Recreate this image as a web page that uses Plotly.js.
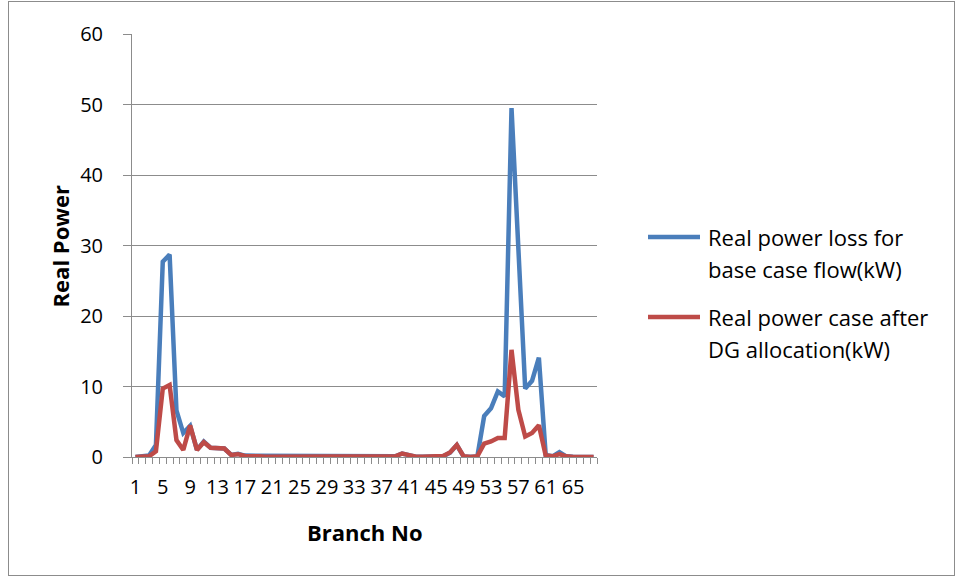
<!DOCTYPE html>
<html>
<head>
<meta charset="utf-8">
<script src="https://cdn.plot.ly/plotly-3.0.1.min.js"></script>
<style>
  html, body { margin: 0; padding: 0; background: #fff; }
  #wrap { position: relative; width: 956px; height: 578px; }
  #frame { position: absolute; left: 8px; top: 1px; width: 947px; height: 575px; border: 1px solid #8c8c8c; box-sizing: border-box; pointer-events: none; }
  #chart { position: absolute; left: 0; top: 0; width: 956px; height: 578px; }
</style>
</head>
<body>
<div id="wrap">
  <div id="chart"></div>
  <div id="frame"></div>
</div>
<script>
// Branch numbers 1..68
const branches = [1,2,3,4,5,6,7,8,9,10,11,12,13,14,15,16,17,18,19,20,21,22,23,24,25,26,27,28,29,30,31,32,33,34,35,36,37,38,39,40,41,42,43,44,45,46,47,48,49,50,51,52,53,54,55,56,57,58,59,60,61,62,63,64,65,66,67,68];

// Real power loss for base case flow (kW)
const baseLoss = [0,0.05,0.2,1.7,27.7,28.7,6.6,3.4,4.4,1.0,2.2,1.3,1.2,1.2,0.3,0.45,0.2,0.2,0.1,0.1,
  0.05,0.05,0.05,0.05,0.05,0.05,0.05,0.05,0.05,0.05,0.05,0.05,0.05,0.05,0.05,0.1,0.2,0.1,0.1,0.5,
  0.2,0.05,0.05,0.05,0.05,0.1,0.6,1.7,0.05,0,0.05,5.8,6.9,9.3,8.6,49.5,28.3,9.7,10.8,14.1,
  0.3,0.1,0.7,0.1,0.05,0,0,0];

// Real power case after DG allocation (kW)
const dgLoss = [0,0,0.1,0.8,9.7,10.2,2.4,1.0,4.5,1.0,2.1,1.3,1.2,1.2,0.3,0.4,0.15,0.2,0.1,0.05,
  0.05,0.05,0.05,0.05,0.05,0.05,0.05,0.05,0.05,0.05,0.05,0.05,0.05,0.05,0.05,0.1,0.15,0.05,0.1,0.5,
  0.2,0.05,0.05,0.05,0.05,0.15,0.65,1.7,0.1,0,0.1,1.9,2.2,2.7,2.7,15.2,6.7,2.9,3.4,4.5,
  0.2,0.1,0.4,0.1,0,0,0,0];

const xTickVals = [1,5,9,13,17,21,25,29,33,37,41,45,49,53,57,61,65];
const xTickText = ["1","5","9","13","17","21","25","29","33","37","41","45","49","53","57","61","65"];
const yTickVals = [0,10,20,30,40,50,60];

const seriesNames = [["Real power loss for", "base case flow(kW)"], ["Real power case after", "DG allocation(kW)"]];
const seriesColors = ["#4a7ebb", "#be4b48"];

const FONT = "Open Sans, Liberation Sans, sans-serif";
const GRID = "#8c8c8c";

const traces = [
  { x: branches, y: baseLoss, type: "scatter", mode: "lines", name: seriesNames[0].join(" "),
    line: { color: seriesColors[0], width: 4.5 } },
  { x: branches, y: dgLoss, type: "scatter", mode: "lines", name: seriesNames[1].join(" "),
    line: { color: seriesColors[1], width: 4.5 } }
];

// Legend drawn as shapes + annotations in paper coordinates
const legendTop = [0.5201, 0.3310];
const legendLineGap = 0.0757;
const shapes = [];
const annotations = [];
seriesNames.forEach((lines, i) => {
  shapes.push({ type: "line", xref: "paper", yref: "paper",
    x0: 1.1097, x1: 1.2215, y0: legendTop[i], y1: legendTop[i],
    line: { color: seriesColors[i], width: 4.5 } });
  lines.forEach((t, j) => {
    annotations.push({ text: t, xref: "paper", yref: "paper",
      x: 1.2344, y: legendTop[i] - j * legendLineGap, xanchor: "left", yanchor: "middle",
      showarrow: false, font: { family: FONT, size: 22, color: "#000" } });
  });
});
annotations.push(
  { text: "<b>Branch No</b>", xref: "paper", yref: "paper",
    x: 0.502, y: -0.177, xanchor: "center", yanchor: "middle", showarrow: false,
    font: { family: FONT, size: 22, color: "#000" } },
  { text: "<b>Real Power</b>", xref: "paper", yref: "paper",
    x: -0.155, y: 0.5, xanchor: "center", yanchor: "middle", showarrow: false, textangle: -90,
    font: { family: FONT, size: 22, color: "#000" } }
);

const layout = {
  width: 956, height: 578,
  margin: { l: 132, r: 359, t: 34, b: 121 },
  paper_bgcolor: "#ffffff", plot_bgcolor: "#ffffff",
  font: { family: FONT, size: 20, color: "#000" },
  showlegend: false,
  xaxis: {
    range: [0.5, 68.5], showgrid: false, zeroline: false,
    showline: true, linecolor: GRID, linewidth: 1,
    tickmode: "array", tickvals: xTickVals, ticktext: xTickText,
    ticks: "", ticklabelstandoff: 12, tickangle: 0,
    tickfont: { family: FONT, size: 20, color: "#000" },
    minor: { tick0: 0.5, dtick: 1, ticks: "outside", ticklen: 6, tickcolor: GRID, tickwidth: 1, showgrid: false }
  },
  yaxis: {
    range: [0, 60], tickmode: "array", tickvals: yTickVals,
    showgrid: true, gridcolor: GRID, gridwidth: 1, zeroline: false,
    showline: true, linecolor: GRID, linewidth: 1,
    ticks: "outside", ticklen: 8, tickcolor: GRID, ticklabelstandoff: 16,
    tickfont: { family: FONT, size: 20, color: "#000" }
  },
  shapes: shapes,
  annotations: annotations
};

Plotly.newPlot("chart", traces, layout, { displayModeBar: false, staticPlot: true });
</script>
</body>
</html>
